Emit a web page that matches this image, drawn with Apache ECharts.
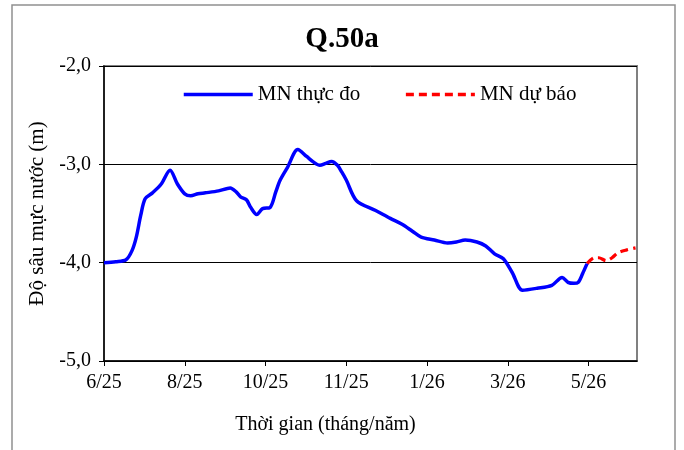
<!DOCTYPE html>
<html><head><meta charset="utf-8">
<script src="https://cdn.jsdelivr.net/npm/echarts@6/dist/echarts.min.js"></script>
<style>html,body{margin:0;padding:0;background:#fff}#c{width:684px;height:450px}</style>
</head><body><div id="c"></div>
<script>
// day offsets from start (ticks every 55 days)
const tickLabels = ['6/25','8/25','10/25','11/25','1/26','3/26','5/26'];
const obsDays = [0,8,15,19,22,25,28,33,39,45,50,55,59,64,69,78,86,90,93,97,100,104,108,113,117,120,125,132,138,143,147,151,155,159,162,165,172,185,195,203,210,216,225,234,240,246,254,260,266,272,278,285,295,305,312,316,320,323,326,329];
const obsVals = [-4.00,-3.99,-3.97,-3.88,-3.74,-3.52,-3.35,-3.29,-3.20,-3.06,-3.20,-3.30,-3.32,-3.30,-3.29,-3.27,-3.24,-3.28,-3.33,-3.36,-3.44,-3.51,-3.45,-3.44,-3.28,-3.16,-3.03,-2.85,-2.92,-2.98,-3.01,-2.99,-2.97,-3.01,-3.08,-3.16,-3.37,-3.47,-3.55,-3.61,-3.68,-3.74,-3.77,-3.80,-3.79,-3.77,-3.79,-3.83,-3.91,-3.96,-4.10,-4.28,-4.26,-4.23,-4.15,-4.20,-4.21,-4.20,-4.11,-4.01];
const fcDays = [329,334,337,342,346,350,356,362];
const fcVals = [-4.01,-3.95,-3.95,-3.98,-3.95,-3.90,-3.87,-3.85];
const seriesNames = ['MN thực đo','MN dự báo'];

const chart = echarts.init(document.getElementById('c'));
const serif = 'Liberation Serif';
chart.setOption({
  animation:false,
  backgroundColor:'#fff',
  title:{text:'Q.50a',left:'center',top:20,textStyle:{fontFamily:serif,fontSize:29,fontWeight:'bold',color:'#000'}},
  legend:{left:182,top:84,padding:0,itemWidth:69,itemHeight:20,itemGap:44,
    itemStyle:{opacity:0},
    textStyle:{fontFamily:serif,fontSize:21,color:'#000'},
    data:[{name:seriesNames[0],lineStyle:{width:3.5}},{name:seriesNames[1],lineStyle:{width:3.5,type:[8,5]}}]},
  grid:{left:104,right:47,top:66,bottom:89,show:true,borderColor:'#808080',borderWidth:2,backgroundColor:'transparent'},
  xAxis:{type:'value',min:0,max:363,interval:55,
    name:'Thời gian (tháng/năm)',nameLocation:'middle',nameGap:54,
    nameTextStyle:{fontFamily:serif,fontSize:20,color:'#000',padding:[0,90,0,0]},
    axisLine:{lineStyle:{color:'#000',width:1.5}},
    axisTick:{show:true,length:5,lineStyle:{color:'#000'}},
    axisLabel:{fontFamily:serif,fontSize:20,color:'#000',margin:12,showMaxLabel:false,
      formatter:v=>tickLabels[Math.round(v/55)]||''},
    splitLine:{show:false}},
  yAxis:{type:'value',min:-5,max:-2,interval:1,
    name:'Độ sâu mực nước (m)',nameLocation:'middle',nameGap:56,
    nameTextStyle:{fontFamily:serif,fontSize:21,color:'#000'},
    axisLine:{show:true,lineStyle:{color:'#000',width:1.5}},
    axisTick:{show:true,length:5,lineStyle:{color:'#000'}},
    axisLabel:{fontFamily:serif,fontSize:20,color:'#000',margin:13,
      formatter:v=>v.toFixed(1).replace('.',',')},
    splitLine:{show:true,lineStyle:{color:'#000',width:1}}},
  graphic:[{type:'rect',shape:{x:12,y:5,width:663,height:460},style:{fill:'none',stroke:'#909090',lineWidth:1.5}}],
  series:[
    {name:seriesNames[0],type:'line',data:obsDays.map((d,i)=>[d,obsVals[i]]),smooth:0.3,showSymbol:false,symbol:'none',
     lineStyle:{color:'#0000ff',width:3.5},itemStyle:{color:'#0000ff'},z:3},
    {name:seriesNames[1],type:'line',data:fcDays.map((d,i)=>[d,fcVals[i]]),smooth:0.3,showSymbol:false,symbol:'none',
     lineStyle:{color:'#ff0000',width:3.2,type:[8,5]},itemStyle:{color:'#ff0000'},z:2}
  ]
});
</script></body></html>
